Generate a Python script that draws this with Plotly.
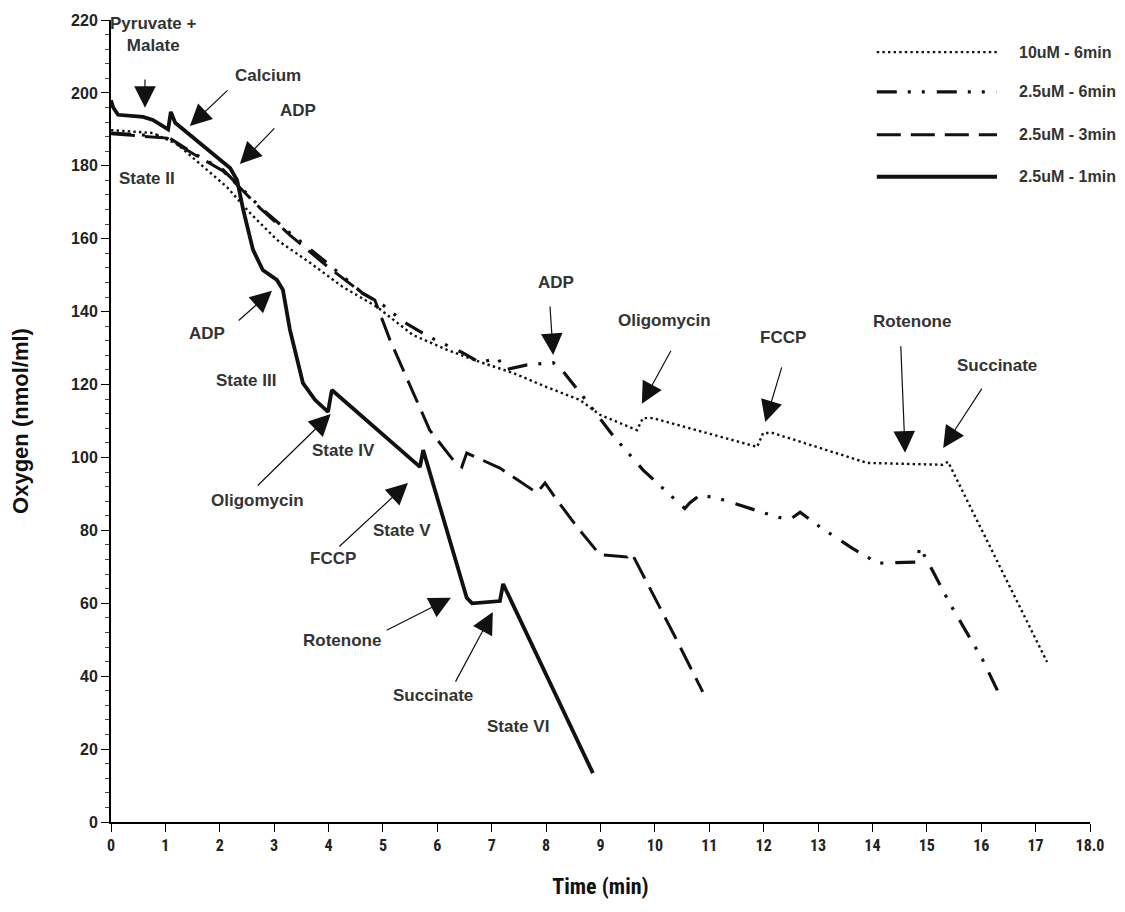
import plotly.graph_objects as go

# ---------------- data ----------------
t_10uM_6min = [0.0, 0.77, 1.21, 1.69, 2.13, 2.56, 3.05, 3.66, 4.26, 4.89, 5.55, 6.18, 6.78,
               7.39, 8.01, 8.62, 8.99, 9.67, 9.78, 9.96, 11.88, 11.99, 12.17, 13.90, 15.29,
               15.39, 17.21]
o_10uM_6min = [189.8, 189.0, 186.0, 179.7, 174.2, 167.0, 159.7, 153.4, 146.8, 141.3, 133.6,
               129.5, 126.2, 123.2, 119.3, 115.8, 111.7, 107.5, 110.8, 110.8, 102.9, 106.7,
               106.7, 98.5, 98.0, 98.8, 43.9]

t_25uM_6min = [0.0, 1.03, 1.51, 2.06, 2.43, 2.74, 3.29, 3.97, 4.63, 5.0, 5.40, 5.86, 6.47,
               6.78, 7.11, 7.24, 7.65, 8.13, 8.29, 8.66, 9.23, 9.78, 10.55, 10.64, 10.83,
               11.14, 12.24, 12.48, 12.67, 13.03, 13.64, 14.10, 14.82, 14.87, 15.0, 15.42,
               16.03, 16.38]
o_25uM_6min = [189.0, 188.0, 183.5, 178.9, 173.4, 168.7, 161.6, 153.4, 145.0, 141.8, 137.0,
               133.0, 128.7, 126.0, 127.3, 124.0, 125.4, 126.0, 124.0, 117.1, 106.0, 96.6,
               86.0, 87.5, 89.7, 88.9, 83.7, 82.9, 85.0, 81.0, 75.0, 71.0, 71.3, 75.4, 71.9,
               60.0, 44.4, 33.5]

t_25uM_3min = [0.0, 0.53, 1.03, 1.51, 2.06, 2.43, 2.74, 3.29, 3.97, 4.63, 4.85, 5.13, 5.50,
               5.86, 6.29, 6.45, 6.54, 7.15, 7.83, 7.98, 8.20, 8.57, 8.99, 9.49, 9.54, 9.60,
               10.37, 10.88]
o_25uM_3min = [188.8, 188.2, 187.6, 183.3, 178.6, 173.1, 168.4, 161.0, 152.5, 145.0, 143.2,
               132.2, 119.9, 107.5, 99.3, 97.4, 101.2, 97.1, 90.3, 93.0, 88.3, 80.9, 73.3,
               72.7, 73.8, 73.0, 50.8, 35.7]

t_25uM_1min = [0.0, 0.04, 0.13, 0.59, 0.77, 1.05, 1.10, 1.18, 2.19, 2.32, 2.43, 2.61, 2.79,
               3.05, 3.16, 3.29, 3.53, 3.75, 3.99, 4.06, 5.68, 5.74, 6.54, 6.64, 7.15, 7.21,
               8.86]
o_25uM_1min = [198.0, 196.0, 194.0, 193.4, 192.6, 190.0, 194.8, 191.8, 179.4, 176.0, 168.0,
               157.0, 151.4, 148.7, 146.0, 135.0, 120.4, 115.8, 112.5, 118.5, 97.4, 102.0,
               61.5, 60.0, 60.6, 65.3, 13.4]

series_names = ["10uM - 6min", "2.5uM - 6min", "2.5uM - 3min", "2.5uM - 1min"]

x_tick_vals = list(range(0, 19))
x_tick_text = [str(v) for v in range(0, 18)] + ["18.0"]

# ---------------- styles ----------------
INK = "#111111"
TXT = "#333333"
FONT = "Liberation Sans, Arial, sans-serif"
NARROW = "Liberation Sans Narrow, Arial Narrow, Roboto Condensed, Liberation Sans, sans-serif"

styles = [
    dict(width=2.4, dash="2.4px,3.2px"),
    dict(width=3.2, dash="20px,11px,3px,11px,3px,12px"),
    dict(width=3.0, dash="24px,10px"),
    dict(width=3.8, dash="solid"),
]

series = [(t_10uM_6min, o_10uM_6min), (t_25uM_6min, o_25uM_6min),
          (t_25uM_3min, o_25uM_3min), (t_25uM_1min, o_25uM_1min)]

fig = go.Figure()
for (t, o), name, st in zip(series, series_names, styles):
    fig.add_trace(go.Scatter(x=t, y=o, mode="lines", name=name, showlegend=False,
                             line=dict(color=INK, width=st["width"], dash=st["dash"])))

# ---------------- manual legend ----------------
leg_x0, leg_x1, leg_tx = 14.08, 16.29, 16.66
leg_y = [211.2, 200.3, 188.5, 177.0]
for name, st, yy in zip(series_names, styles, leg_y):
    fig.add_shape(type="line", x0=leg_x0, x1=leg_x1, y0=yy, y1=yy, xref="x", yref="y",
                  line=dict(color=INK, width=st["width"], dash=st["dash"]))
    fig.add_annotation(x=leg_tx, y=yy, text=name, showarrow=False, xanchor="left",
                       yanchor="middle", font=dict(family=FONT, size=16, color=TXT, weight="bold"))

# ---------------- arrows: (tip x, tip y, tail x, tail y) ----------------
arrows = [
    (0.625, 195.9, 0.625, 204.1),   # Pyruvate + Malate
    (1.45, 190.9, 2.17, 201.1),     # Calcium
    (2.37, 180.5, 3.03, 190.7),     # ADP
    (2.96, 145.7, 2.32, 137.2),     # ADP (state III)
    (4.04, 111.9, 2.67, 91.9),      # Oligomycin
    (5.46, 93.0, 4.17, 75.2),       # FCCP
    (6.25, 61.5, 5.04, 52.4),       # Rotenone
    (7.02, 57.6, 6.32, 38.1),       # Succinate
    (8.13, 128.1, 8.07, 141.8),     # ADP right
    (9.76, 114.7, 10.31, 129.7),    # Oligomycin right
    (12.03, 109.7, 12.34, 125.1),   # FCCP right
    (14.60, 101.3, 14.52, 130.9),   # Rotenone right
    (15.30, 102.6, 16.03, 119.3),   # Succinate right
]
for x, y, ax, ay in arrows:
    fig.add_annotation(x=x, y=y, ax=ax, ay=ay, xref="x", yref="y", axref="x", ayref="y",
                       text="", showarrow=True, arrowhead=2, arrowsize=3.6, arrowwidth=1.2,
                       arrowcolor=INK, standoff=0, startstandoff=0)

# ---------------- labels ----------------
labels = [
    (0.79, 216.0, "Pyruvate +<br>Malate"),
    (2.89, 204.7, "Calcium"),
    (3.44, 195.1, "ADP"),
    (1.77, 133.9, "ADP"),
    (0.66, 176.4, "State II"),
    (2.48, 121.0, "State III"),
    (2.70, 88.1, "Oligomycin"),
    (4.27, 101.8, "State IV"),
    (4.08, 72.4, "FCCP"),
    (5.35, 80.1, "State V"),
    (4.25, 49.9, "Rotenone"),
    (5.92, 34.8, "Succinate"),
    (7.48, 26.1, "State VI"),
    (8.18, 148.1, "ADP"),
    (10.18, 137.7, "Oligomycin"),
    (12.35, 132.8, "FCCP"),
    (14.73, 137.4, "Rotenone"),
    (16.29, 125.1, "Succinate"),
]
for x, y, txt in labels:
    fig.add_annotation(x=x, y=y, text=txt, showarrow=False, xref="x", yref="y",
                       xanchor="center", yanchor="middle",
                       font=dict(family=FONT, size=17, color=TXT, weight="bold"))

# ---------------- axes ----------------
fig.update_xaxes(range=[0, 18], tickvals=x_tick_vals, ticktext=x_tick_text,
                 showline=True, linecolor="black", linewidth=2, ticks="outside",
                 ticklen=8, tickwidth=1.2, tickcolor="black", showgrid=False, zeroline=False,
                 tickfont=dict(family=NARROW, size=16, color="#222222", weight="bold"),
                 title=dict(text="Time (min)", standoff=24,
                            font=dict(family=NARROW, size=22, color="#111111", weight="bold")))
fig.update_yaxes(range=[0, 220], dtick=20, tick0=0,
                 showline=True, linecolor="black", linewidth=2, ticks="outside",
                 ticklen=8, tickwidth=1.2, tickcolor="black", showgrid=False, zeroline=False,
                 minor=dict(dtick=4, ticks="outside", ticklen=4, tickwidth=1, tickcolor="#444444"),
                 tickfont=dict(family=FONT, size=16, color="#222222", weight="bold"),
                 title=dict(text="Oxygen (nmol/ml)", standoff=36,
                            font=dict(family=FONT, size=22, color="#111111", weight="bold")))

fig.update_layout(width=1125, height=912, autosize=False,
                  margin=dict(l=111, r=35, t=20, b=90),
                  paper_bgcolor="white", plot_bgcolor="white", showlegend=False)

fig.write_html("out.html")
